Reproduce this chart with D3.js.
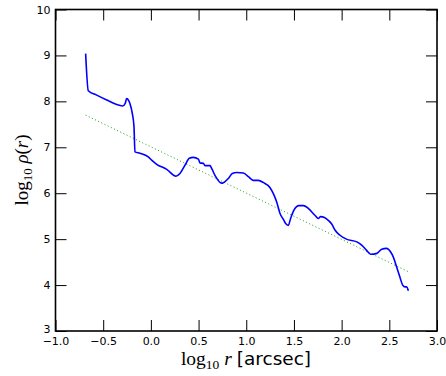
<!DOCTYPE html>
<html><head><meta charset="utf-8">
<script src="https://cdn.jsdelivr.net/npm/d3@7"></script>
<style>body{margin:0;background:#fff}svg{display:block}</style>
</head><body>
<svg id="c" width="446" height="376"></svg>
<script>
const logR = [-0.684,-0.656,-0.568,-0.463,-0.341,-0.296,-0.27,-0.254,-0.219,-0.195,-0.177,-0.167,-0.114,-0.027,0.008,0.061,0.166,0.263,0.305,0.358,0.403,0.445,0.498,0.515,0.55,0.568,0.62,0.637,0.672,0.742,0.76,0.812,0.854,0.90,0.97,1.022,1.074,1.127,1.18,1.25,1.284,1.319,1.354,1.389,1.413,1.441,1.465,1.50,1.553,1.60,1.65,1.72,1.756,1.78,1.82,1.86,1.896,1.93,1.98,2.05,2.16,2.21,2.26,2.305,2.37,2.42,2.47,2.514,2.54,2.576,2.61,2.64,2.665,2.68,2.70];
const logRho = [9.04,8.23,8.135,8.03,7.92,7.90,7.95,8.06,7.95,7.74,7.45,6.90,6.87,6.79,6.72,6.63,6.52,6.37,6.43,6.61,6.76,6.78,6.74,6.66,6.65,6.60,6.60,6.54,6.39,6.22,6.23,6.32,6.43,6.45,6.44,6.36,6.28,6.28,6.23,6.12,5.99,5.81,5.56,5.43,5.34,5.30,5.45,5.63,5.73,5.73,5.67,5.52,5.45,5.49,5.47,5.41,5.33,5.20,5.09,5.00,4.94,4.87,4.76,4.67,4.69,4.78,4.80,4.72,4.62,4.40,4.18,4.00,3.96,3.96,3.875];
const fitX = [-0.684, 2.70];
const fitY = [7.70, 4.29];
const xTicks = [-1.0,-0.5,0.0,0.5,1.0,1.5,2.0,2.5,3.0];
const yTicks = [3,4,5,6,7,8,9,10];

const svg = d3.select("#c");
const L=55.5, R=437, T=9.5, B=331;
const x = d3.scaleLinear().domain([-1,3]).range([L,R]);
const y = d3.scaleLinear().domain([3,10]).range([B,T]);
const tl = 11;
const fmtX = d => (d<0?"\u2212":"") + Math.abs(d).toFixed(1);

const g = svg.append("g");
const line = d3.line().x(d=>x(d[0])).y(d=>y(d[1]));
g.append("path").datum(fitX.map((v,i)=>[v,fitY[i]]))
 .attr("d",line).attr("fill","none").attr("stroke","#1a9a1a")
 .attr("stroke-width",1).attr("stroke-dasharray","1,2.5");
g.append("path").datum(logR.map((v,i)=>[v,logRho[i]]))
 .attr("d",d3.line().x(d=>x(d[0])).y(d=>y(d[1])).curve(d3.curveMonotoneX))
 .attr("fill","none").attr("stroke","#0000ff").attr("stroke-width",1.6).attr("stroke-linejoin","round");

const ax = d3.axisBottom(x).tickValues(xTicks).tickSizeInner(-tl).tickSizeOuter(0).tickPadding(6).tickFormat(fmtX);
const axT = d3.axisTop(x).tickValues(xTicks).tickSizeInner(-tl).tickSizeOuter(0).tickFormat("");
const ay = d3.axisLeft(y).tickValues(yTicks).tickSizeInner(-tl).tickSizeOuter(0).tickPadding(5).tickFormat(d3.format("d"));
const ayR = d3.axisRight(y).tickValues(yTicks).tickSizeInner(-tl).tickSizeOuter(0).tickFormat("");
function style(sel){
  sel.select(".domain").remove();
  sel.selectAll(".tick line").attr("stroke","#000").attr("stroke-width",1);
  sel.selectAll("text").attr("font-family","DejaVu Sans").attr("font-size",11).attr("fill","#000");
}
svg.append("g").attr("transform",`translate(0,${B})`).call(ax).call(style);
svg.append("g").attr("transform",`translate(0,${T})`).call(axT).call(style);
const gy = svg.append("g").attr("transform",`translate(${L},0)`).call(ay).call(style);
gy.selectAll(".tick text").filter(d => d === 3).attr("dy","0.15em");
svg.append("g").attr("transform",`translate(${R},0)`).call(ayR).call(style);
svg.append("rect").attr("x",L).attr("y",T).attr("width",R-L).attr("height",B-T)
 .attr("fill","none").attr("stroke","#000").attr("stroke-width",1.6);

const xl = svg.append("text").attr("x",246).attr("y",365).attr("text-anchor","middle").attr("font-size",19.5).attr("fill","#000");
xl.append("tspan").attr("font-family","Liberation Serif").text("log");
xl.append("tspan").attr("font-family","Liberation Serif").attr("font-size",13.5).attr("dy",4).text("10");
xl.append("tspan").attr("font-family","Liberation Serif").attr("font-style","italic").attr("dy",-4).text(" r ");
xl.append("tspan").attr("font-family","DejaVu Sans").attr("font-size",18.5).text("[arcsec]");

const yl = svg.append("text").attr("transform","translate(28,170) rotate(-90)").attr("text-anchor","middle").attr("font-size",19).attr("fill","#000").attr("font-family","Liberation Serif");
yl.append("tspan").text("log");
yl.append("tspan").attr("font-size",13).attr("dy",4).text("10");
yl.append("tspan").attr("dy",-4).text(" ");
yl.append("tspan").attr("font-style","italic").text("\u03C1");
yl.append("tspan").text("(");
yl.append("tspan").attr("font-style","italic").text("r");
yl.append("tspan").text(")");
</script>
</body></html>
